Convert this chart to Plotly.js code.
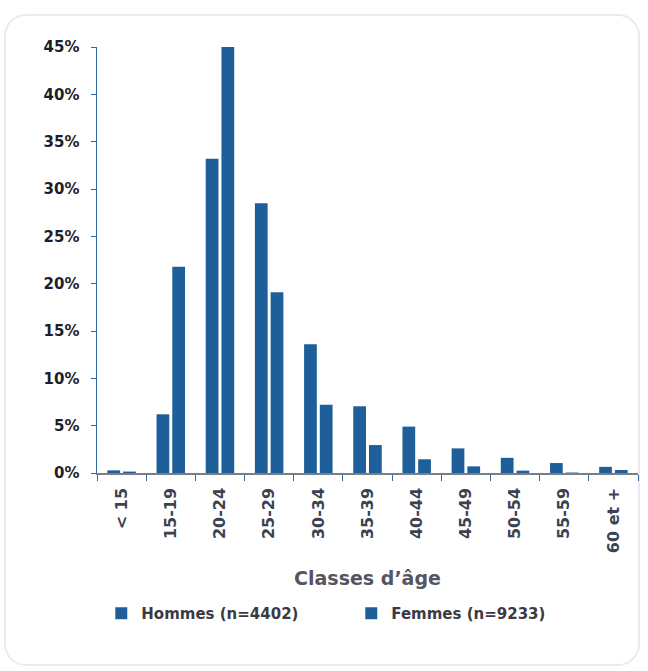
<!DOCTYPE html>
<html>
<head>
<meta charset="utf-8">
<script src="https://cdn.plot.ly/plotly-3.0.1.min.js"></script>
<style>
  html, body { margin: 0; padding: 0; background: #ffffff; }
  #frame { position: absolute; left: 4px; top: 14px; width: 636px; height: 652px;
           border: 2px solid #f3e6f3; border-radius: 22px; box-sizing: border-box; }
  #chart { position: absolute; left: 0; top: 0; width: 648px; height: 671px; }
</style>
</head>
<body>
<div id="frame"></div>
<div id="chart"></div>
<script>
const categories = ["< 15", "15-19", "20-24", "25-29", "30-34", "35-39", "40-44", "45-49", "50-54", "55-59", "60 et +"];
const hommes = [0.28, 6.2, 33.2, 28.5, 13.6, 7.05, 4.9, 2.6, 1.6, 1.05, 0.65];
const femmes = [0.15, 21.8, 45.0, 19.1, 7.2, 2.95, 1.45, 0.7, 0.25, 0.05, 0.32];
const seriesNames = ["Hommes (n=4402)", "Femmes (n=9233)"];
const yTicks = [0, 5, 10, 15, 20, 25, 30, 35, 40, 45];

const barColor = "#1f5f99";
const font = "DejaVu Sans, Verdana, sans-serif";

const traces = [
  { type: "bar", x: categories, y: hommes, name: seriesNames[0],
    marker: { color: barColor }, hoverinfo: "x+y" },
  { type: "bar", x: categories, y: femmes, name: seriesNames[1],
    marker: { color: barColor }, hoverinfo: "x+y" }
];

const layout = {
  width: 648, height: 671,
  paper_bgcolor: "rgba(0,0,0,0)", plot_bgcolor: "rgba(0,0,0,0)",
  margin: { l: 97, r: 10, t: 47, b: 198 },
  barmode: "group", bargap: 0.36, bargroupgap: 0.19,
  showlegend: true,
  legend: { orientation: "h", x: 0.47, xanchor: "center", y: -0.33, yanchor: "middle",
            font: { family: font, size: 15, color: "#3a3a44", weight: "bold" },
            itemwidth: 30, entrywidth: 205, tracegroupgap: 0 },
  xaxis: {
    type: "category", tickangle: -90,
    showline: true, linecolor: "#7a7f87", linewidth: 1.5,
    ticks: "outside", ticklen: 6, tickcolor: "#2f6aa6", tickson: "boundaries",
    ticklabelstandoff: 7,
    showgrid: false, zeroline: false,
    tickfont: { family: font, size: 16, color: "#3d4250", weight: "bold" },
    title: { text: "Classes d\u2019âge", standoff: 19,
             font: { family: font, size: 19, color: "#555560", weight: "bold" } }
  },
  yaxis: {
    range: [0, 45], tickvals: yTicks, ticktext: yTicks.map(v => v + "%"),
    showline: true, linecolor: "#2f6aa6", linewidth: 1.5,
    ticks: "outside", ticklen: 5, tickcolor: "#2f6aa6",
    ticklabelstandoff: 8,
    showgrid: false, zeroline: false,
    tickfont: { family: font, size: 15, color: "#1e1e28", weight: "bold" }
  }
};

Plotly.newPlot("chart", traces, layout, { displayModeBar: false, staticPlot: true });
</script>
</body>
</html>
